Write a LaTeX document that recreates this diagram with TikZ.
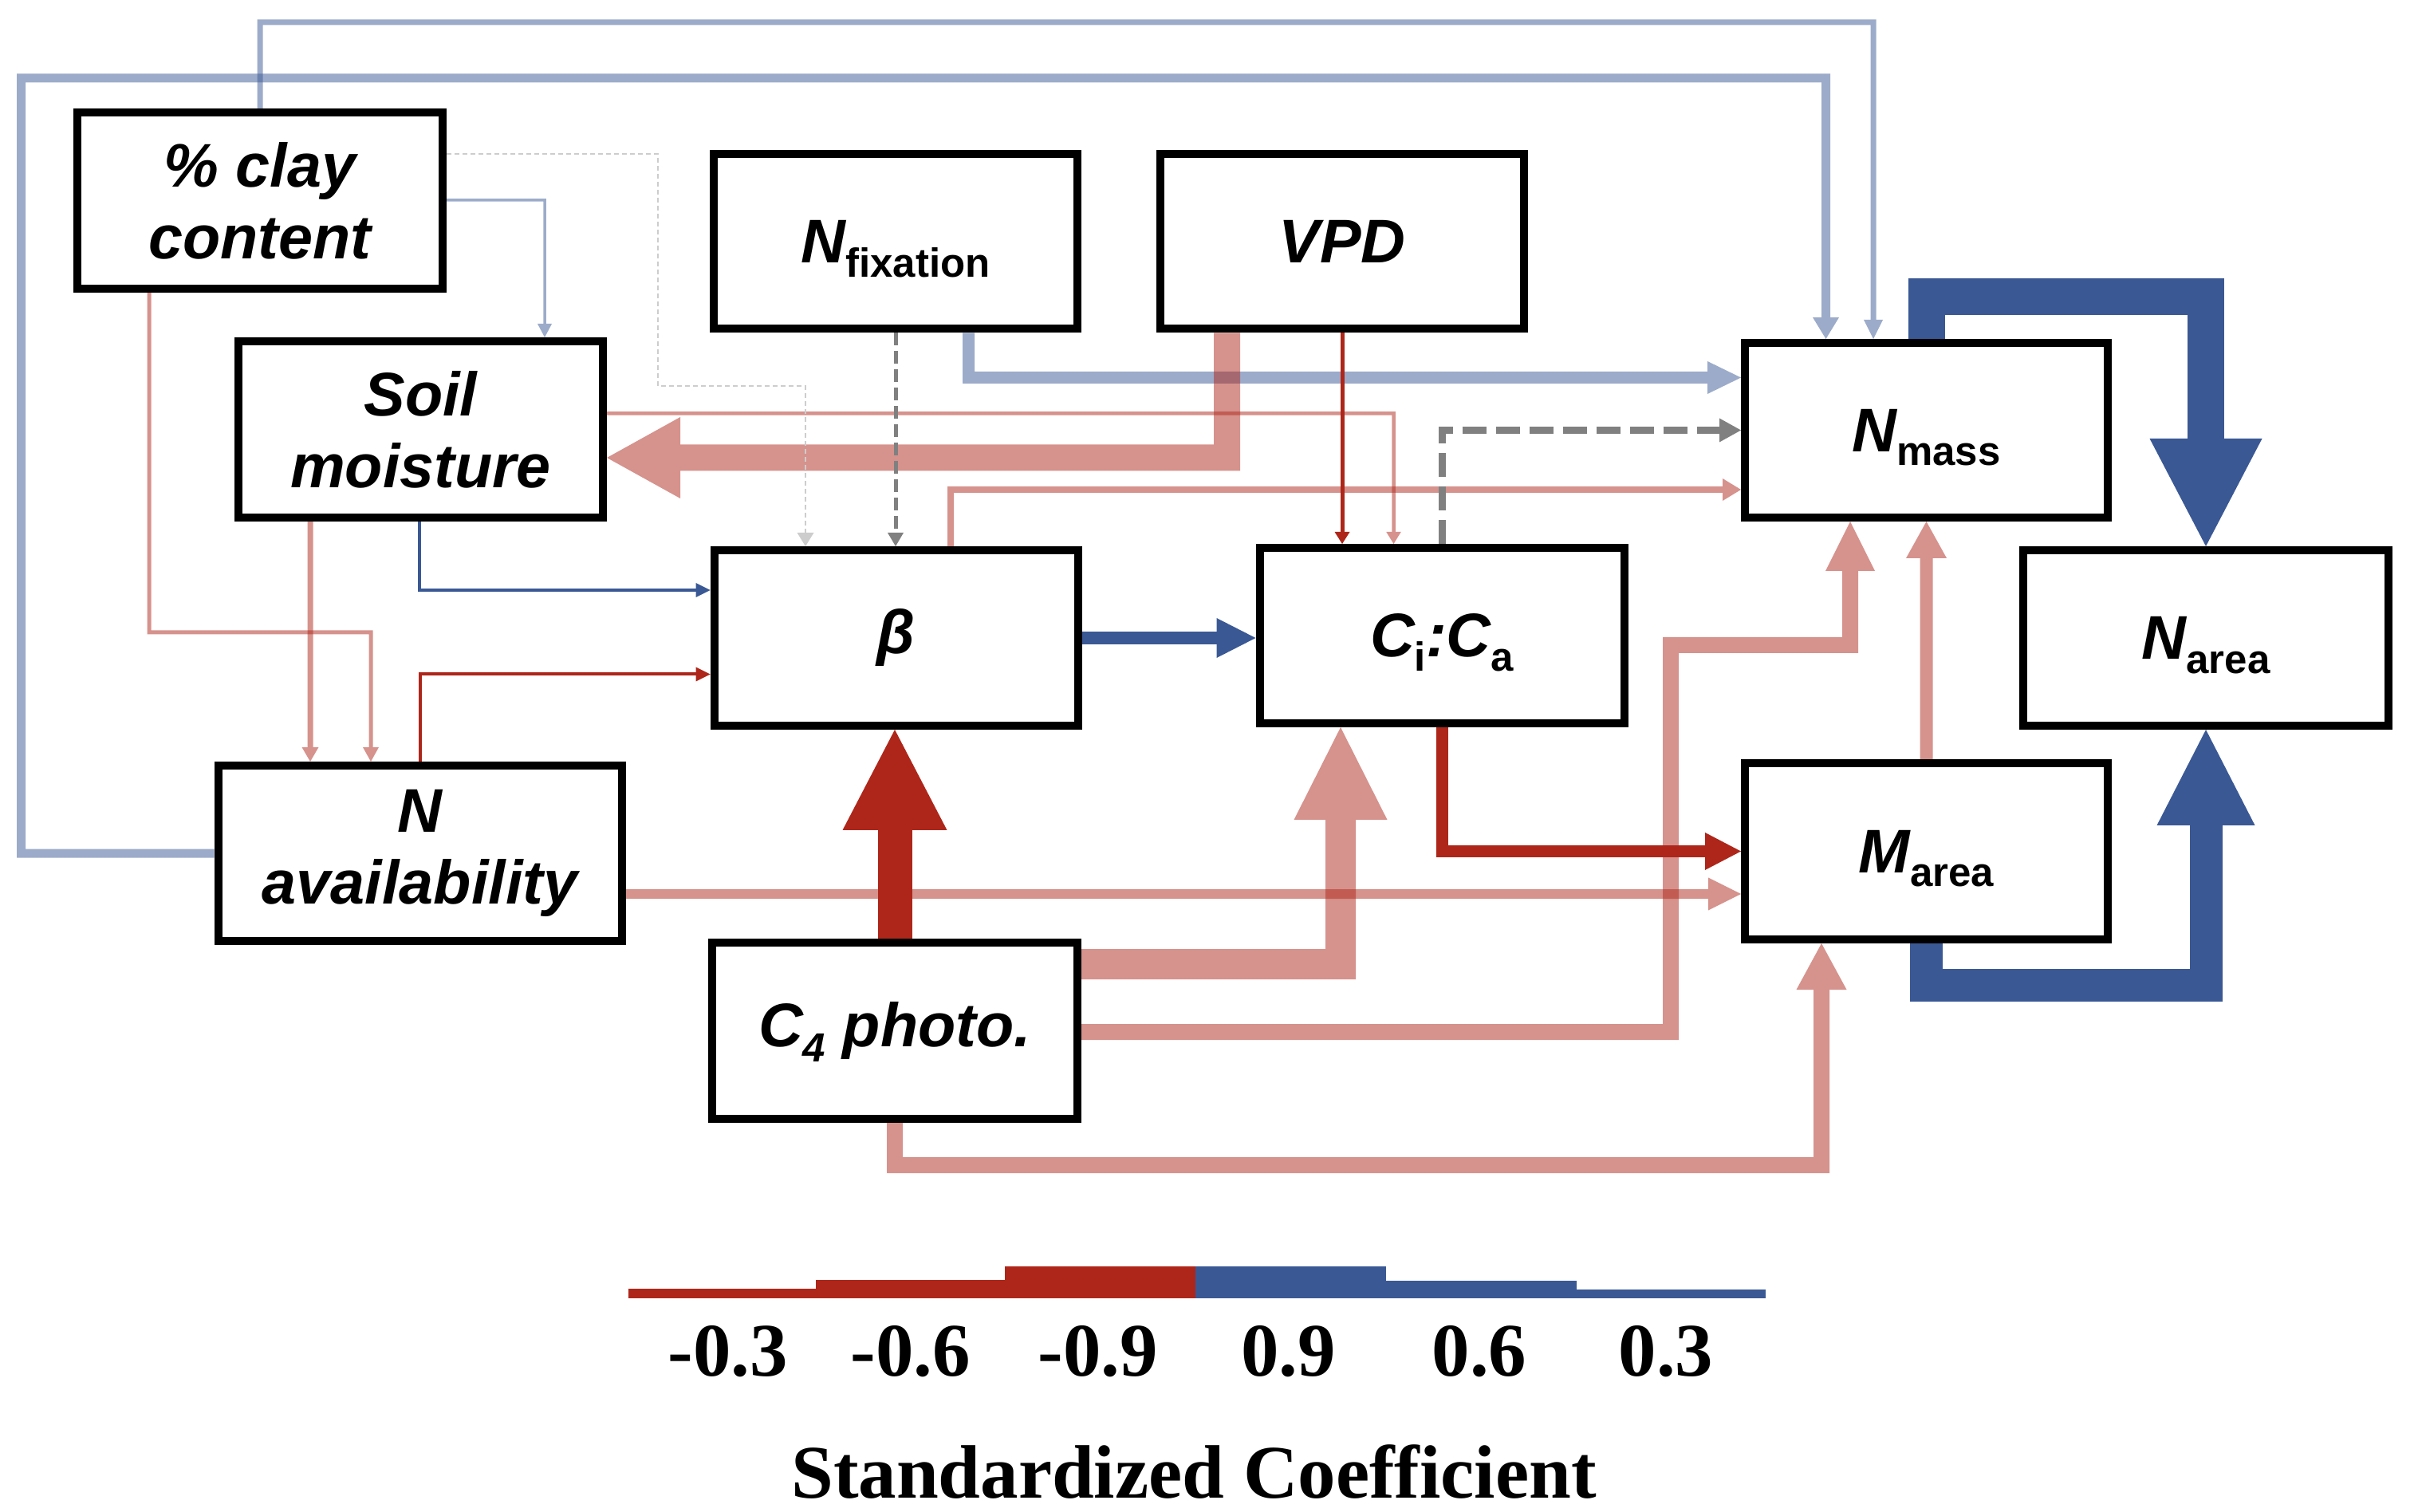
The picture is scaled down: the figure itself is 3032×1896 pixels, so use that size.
\documentclass[tikz,border=0pt]{standalone}
\usepackage{fontspec}
\setmainfont{Liberation Sans}
\newfontfamily\tnr{Liberation Serif}
\usetikzlibrary{arrows.meta,backgrounds}
\definecolor{dblue}{RGB}{58,88,148}
\definecolor{dred}{RGB}{174,38,26}
\definecolor{dgray}{RGB}{128,128,128}
\definecolor{lgray}{RGB}{205,205,205}
\newcommand\subx[1]{\raisebox{-5pt}[0pt][0pt]{\fontsize{14.5}{16}\selectfont\upshape #1}}
\tikzset{
  box/.style={draw=black, line width=1mm, fill=white, inner sep=0pt, align=center,
    font=\bfseries\itshape\fontsize{22}{25.6}\selectfont},
  pale/.style={transparency group, opacity=0.5},
  ahead/.style 2 args={-{Triangle[length=#1, width=#2, line width=0pt]}},
  lgd/.style={font=\tnr\bfseries\fontsize{27}{30}\selectfont, inner sep=0pt, anchor=base},
}
\begin{document}
\begin{tikzpicture}[x=0.1mm, y=-0.1mm]
\useasboundingbox (0,0) rectangle (3032,1896);

% boxes
\node[box, minimum width=45.8mm, minimum height=22.1mm] (clay) at (326,251.5) {\% clay\\content};
\node[box, minimum width=45.7mm, minimum height=22.1mm] (soil) at (527.5,538.5) {Soil\\moisture};
\node[box, minimum width=45.65mm, minimum height=21.9mm] (nfix) at (1123,303) {N\subx{fixation}};
\node[box, minimum width=45.65mm, minimum height=21.9mm] (vpd) at (1683,303) {VPD};
\node[box, minimum width=45.5mm, minimum height=21.9mm] (nmass) at (2415.5,539.5) {N\subx{mass}};
\node[box, minimum width=45.6mm, minimum height=22mm] (beta) at (1123.5,800) {β};
\node[box, minimum width=45.7mm, minimum height=22mm] (cica) at (1808,797) {C\subx{i}:C\subx{a}};
\node[box, minimum width=45.85mm, minimum height=22mm] (narea) at (2766,800) {N\subx{area}};
\node[box, minimum width=50.6mm, minimum height=22mm] (navail) at (526.6,1070) {N\\availability};
\node[box, minimum width=45.5mm, minimum height=22.1mm] (marea) at (2415.5,1067.5) {M\subx{area}};
\node[box, minimum width=45.75mm, minimum height=22.1mm] (c4) at (1122,1292.5) {C\raisebox{-5.5pt}[0pt][0pt]{\fontsize{14.5}{16}\selectfont 4} photo.};

\begin{pgfonlayer}{background}
% pale blue
\scoped[pale]\draw[dblue, line width=0.7mm, ahead={2.4mm}{2.4mm}] (clay.north) -- (clay.north |- 0,28) -| (2349,0 |- nmass.north);
\scoped[pale]\draw[dblue, line width=1.1mm, ahead={2.7mm}{3.3mm}] (navail.west) -| (26.5,98) -| (2289.5,0 |- nmass.north);
\scoped[pale]\draw[dblue, line width=0.35mm, ahead={1.7mm}{1.8mm}] (clay.east |- 0,251) -| (683,0 |- soil.north);
\scoped[pale]\draw[dblue, line width=1.5mm, ahead={4.2mm}{4.1mm}] (nfix.south -| 1214.5,0) |- (nmass.west |- 0,473.5);
% pale red
\scoped[pale]\draw[dred, line width=0.5mm, ahead={1.8mm}{2mm}] (clay.south -| 187,0) |- (465,793) -- (465,0 |- navail.north);
\scoped[pale]\draw[dred, line width=0.7mm, ahead={1.8mm}{2.1mm}] (soil.south -| 389,0) -- (389,0 |- navail.north);
\scoped[pale]\draw[dred, line width=0.45mm, ahead={1.5mm}{1.85mm}] (soil.east |- 0,518.5) -| (1747.5,0 |- cica.north);
\scoped[pale]\draw[dred, line width=3.3mm, ahead={9.2mm}{10.2mm}] (vpd.south -| 1538.5,0) |- (soil.east |- 0,574);
\scoped[pale]\draw[dred, line width=0.8mm, ahead={2.3mm}{2.8mm}] (beta.north -| 1192,0) |- (nmass.west |- 0,614);
\scoped[pale]\draw[dred, line width=1.2mm, ahead={4.1mm}{4.1mm}] (navail.east |- 0,1121) -- (marea.west |- 0,1121);
\scoped[pale]\draw[dred, line width=3.8mm, ahead={11.6mm}{11.7mm}] (c4.east |- 0,1209) -| (1681,0 |- cica.south);
\scoped[pale]\draw[dred, line width=2mm, ahead={6.2mm}{6.2mm}] (c4.east |- 0,1294) -| (2095,809) -| (2320,0 |- nmass.south);
\scoped[pale]\draw[dred, line width=2mm, ahead={5.8mm}{6.3mm}] (c4.south) |- (2284,1461) -- (2284,0 |- marea.south);
\scoped[pale]\draw[dred, line width=1.6mm, ahead={4.6mm}{5.1mm}] (marea.north) -- (nmass.south);
% gray dashed
\draw[lgray, line width=0.2mm, dash pattern=on 0.6mm off 0.4mm, ahead={1.7mm}{2.1mm}] (clay.east |- 0,193) -| (825,484) -| (1010,0 |- beta.north);
\draw[dgray, line width=0.5mm, dash pattern=on 1.6mm off 0.7mm, ahead={1.7mm}{2mm}] (nfix.south) -- (nfix.south |- beta.north);
\draw[dgray, line width=0.9mm, dash pattern=on 3mm off 1.2mm, ahead={2.7mm}{3mm}] (cica.north) |- (nmass.west);
% solid
\draw[dblue, line width=0.4mm, ahead={1.8mm}{1.8mm}] (soil.south -| 526,0) |- (beta.west |- 0,740);
\draw[dred, line width=0.4mm, ahead={1.8mm}{1.8mm}] (navail.north) |- (beta.west |- 0,845.5);
\draw[dred, line width=0.5mm, ahead={1.5mm}{1.9mm}] (vpd.south) -- (vpd.south |- cica.north);
\draw[dblue, line width=1.66mm, ahead={4.9mm}{5mm}] (beta.east) -- (beta.east -| cica.west);
\draw[dred, line width=4.3mm, ahead={12.6mm}{13.1mm}] (c4.north) -- (c4.north |- beta.south);
\draw[dred, line width=1.5mm, ahead={4.5mm}{4.7mm}] (cica.south) |- (marea.west);
\draw[dblue, line width=4.6mm, ahead={13.5mm}{14.1mm}] (nmass.north) |- (narea.north |- 0,372) -- (narea.north);
\draw[dblue, line width=4.1mm, ahead={12mm}{12.3mm}] (marea.south) |- (narea.south |- 0,1235) -- (narea.south);
\end{pgfonlayer}

% legend
\fill[dred] (788,1616) rectangle (1023,1628);
\fill[dred] (1022.6,1605) rectangle (1260.5,1628);
\fill[dred] (1260,1588) rectangle (1499.5,1628);
\fill[dblue] (1499,1588) rectangle (1737.5,1628);
\fill[dblue] (1737,1606) rectangle (1976.5,1628);
\fill[dblue] (1976,1617) rectangle (2213.6,1628);
\node[lgd] (l1) at (912.6,1725) {-0.3};
\node[lgd] (l2) at (1142,1725) {-0.6};
\node[lgd] (l3) at (1376.6,1725) {-0.9};
\node[lgd] (l4) at (1615.7,1725) {0.9};
\node[lgd] (l5) at (1855,1725) {0.6};
\node[lgd] (l6) at (2089,1725) {0.3};
\node[lgd] (ttl) at (1497,1878) {Standardized Coefficient};
\end{tikzpicture}
\end{document}
